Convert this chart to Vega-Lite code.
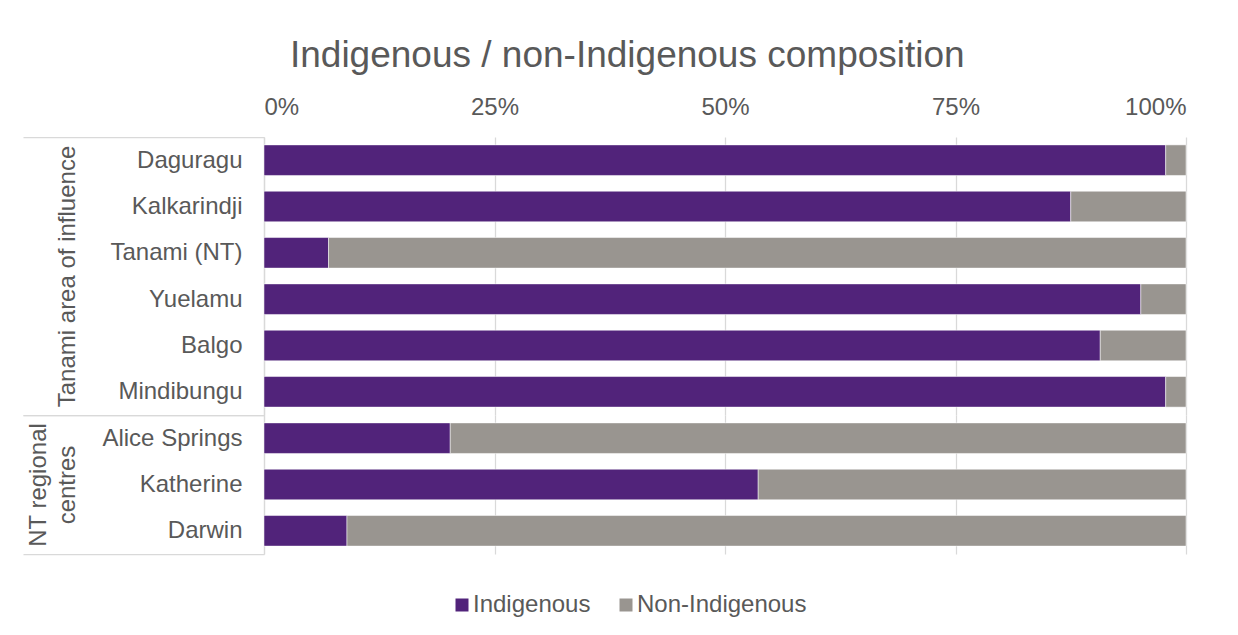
{
  "$schema": "https://vega.github.io/schema/vega-lite/v6.json",
  "background": "white",
  "padding": {"left": 22, "top": 37, "right": 20, "bottom": 10},
  "title": {
    "text": "Indigenous / non-Indigenous composition",
    "fontSize": 37,
    "font": "Liberation Sans",
    "fontWeight": "normal",
    "color": "#595959",
    "anchor": "middle",
    "offset": 20,
    "dx": 23
  },
  "datasets": {
    "comp": [
      {"Location": "Daguragu", "Group": "Tanami area of influence", "Type": "Indigenous", "Share": 0.978},
      {"Location": "Daguragu", "Group": "Tanami area of influence", "Type": "Non-Indigenous", "Share": 0.022},
      {"Location": "Kalkarindji", "Group": "Tanami area of influence", "Type": "Indigenous", "Share": 0.875},
      {"Location": "Kalkarindji", "Group": "Tanami area of influence", "Type": "Non-Indigenous", "Share": 0.125},
      {"Location": "Tanami (NT)", "Group": "Tanami area of influence", "Type": "Indigenous", "Share": 0.07},
      {"Location": "Tanami (NT)", "Group": "Tanami area of influence", "Type": "Non-Indigenous", "Share": 0.93},
      {"Location": "Yuelamu", "Group": "Tanami area of influence", "Type": "Indigenous", "Share": 0.951},
      {"Location": "Yuelamu", "Group": "Tanami area of influence", "Type": "Non-Indigenous", "Share": 0.049},
      {"Location": "Balgo", "Group": "Tanami area of influence", "Type": "Indigenous", "Share": 0.907},
      {"Location": "Balgo", "Group": "Tanami area of influence", "Type": "Non-Indigenous", "Share": 0.093},
      {"Location": "Mindibungu", "Group": "Tanami area of influence", "Type": "Indigenous", "Share": 0.978},
      {"Location": "Mindibungu", "Group": "Tanami area of influence", "Type": "Non-Indigenous", "Share": 0.022},
      {"Location": "Alice Springs", "Group": "NT regional centres", "Type": "Indigenous", "Share": 0.202},
      {"Location": "Alice Springs", "Group": "NT regional centres", "Type": "Non-Indigenous", "Share": 0.798},
      {"Location": "Katherine", "Group": "NT regional centres", "Type": "Indigenous", "Share": 0.536},
      {"Location": "Katherine", "Group": "NT regional centres", "Type": "Non-Indigenous", "Share": 0.464},
      {"Location": "Darwin", "Group": "NT regional centres", "Type": "Indigenous", "Share": 0.09},
      {"Location": "Darwin", "Group": "NT regional centres", "Type": "Non-Indigenous", "Share": 0.91}
    ]
  },
  "config": {
    "font": "Liberation Sans",
    "view": {"stroke": null},
    "axis": {
      "labelFont": "Liberation Sans",
      "labelColor": "#595959",
      "labelFontSize": 24,
      "gridColor": "#d9d9d9",
      "gridWidth": 1.25,
      "domainColor": "#d9d9d9",
      "domainWidth": 1.25,
      "tickColor": "#d9d9d9"
    },
    "legend": {
      "orient": "none",
      "legendX": 186,
      "legendY": 456,
      "direction": "horizontal",
      "labelFont": "Liberation Sans",
      "labelFontSize": 24,
      "labelColor": "#595959",
      "labelLimit": 400,
      "symbolType": "square",
      "symbolSize": 169,
      "symbolStrokeWidth": 0,
      "columnPadding": 23,
      "labelOffset": -1
    }
  },
  "spacing": 0,
  "bounds": "flush",
  "resolve": {"scale": {"x": "shared", "color": "shared"}},
  "vconcat": [
    {
      "width": 922,
      "height": 278,
      "data": {"name": "comp"},
      "transform": [{"filter": "datum.Group === 'Tanami area of influence'"}],
      "mark": {"type": "bar", "stroke": "white", "strokeWidth": 0.5, "height": {"band": 0.66}},
      "encoding": {
        "y": {
          "field": "Location",
          "type": "nominal",
          "sort": null,
          "scale": {"paddingInner": 0, "paddingOuter": 0},
          "axis": {
            "title": "Tanami area of influence",
            "titleX": -197,
            "titleY": 139,
            "titleAngle": 270,
            "titleAlign": "center",
            "titleBaseline": "middle",
            "titleFontSize": 24,
            "titleFontWeight": "normal",
            "titleColor": "#595959",
            "titleFont": "Liberation Sans",
            "tickBand": "extent",
            "tickSize": 241,
            "tickWidth": 1.25,
            "tickOpacity": {"condition": {"test": "datum.index === -1 || datum.index === 1", "value": 1}, "value": 0},
            "labelPadding": -219
          }
        },
        "x": {
          "field": "Share",
          "type": "quantitative",
          "stack": "zero",
          "scale": {"domain": [0, 1]},
          "axis": {
            "orient": "top",
            "format": ".0%",
            "values": [0, 0.25, 0.5, 0.75, 1],
            "ticks": false,
            "tickSize": 0,
            "domain": false,
            "labelPadding": 18,
            "title": null,
            "grid": true
          }
        },
        "color": {
          "field": "Type",
          "type": "nominal",
          "scale": {"domain": ["Indigenous", "Non-Indigenous"], "range": ["#51237a", "#999590"]},
          "legend": {"title": null}
        }
      }
    },
    {
      "width": 922,
      "height": 139,
      "data": {"name": "comp"},
      "transform": [{"filter": "datum.Group === 'NT regional centres'"}],
      "mark": {"type": "bar", "stroke": "white", "strokeWidth": 0.5, "height": {"band": 0.66}},
      "encoding": {
        "y": {
          "field": "Location",
          "type": "nominal",
          "sort": null,
          "scale": {"paddingInner": 0, "paddingOuter": 0},
          "axis": {
            "title": ["NT regional", "centres"],
            "titleX": -226,
            "titleY": 69.5,
            "titleAngle": 270,
            "titleAlign": "center",
            "titleBaseline": "middle",
            "titleLineHeight": 29,
            "titleFontSize": 24,
            "titleFontWeight": "normal",
            "titleColor": "#595959",
            "titleFont": "Liberation Sans",
            "tickBand": "extent",
            "tickSize": 241,
            "tickWidth": 1.25,
            "tickOpacity": {"condition": {"test": "datum.index === -1 || datum.index === 1", "value": 1}, "value": 0},
            "labelPadding": -219
          }
        },
        "x": {
          "field": "Share",
          "type": "quantitative",
          "stack": "zero",
          "scale": {"domain": [0, 1]},
          "axis": {
            "values": [0, 0.25, 0.5, 0.75, 1],
            "labels": false,
            "ticks": false,
            "tickSize": 0,
            "domain": false,
            "title": null,
            "grid": true
          }
        },
        "color": {
          "field": "Type",
          "type": "nominal",
          "scale": {"domain": ["Indigenous", "Non-Indigenous"], "range": ["#51237a", "#999590"]},
          "legend": {"title": null}
        }
      }
    }
  ]
}
